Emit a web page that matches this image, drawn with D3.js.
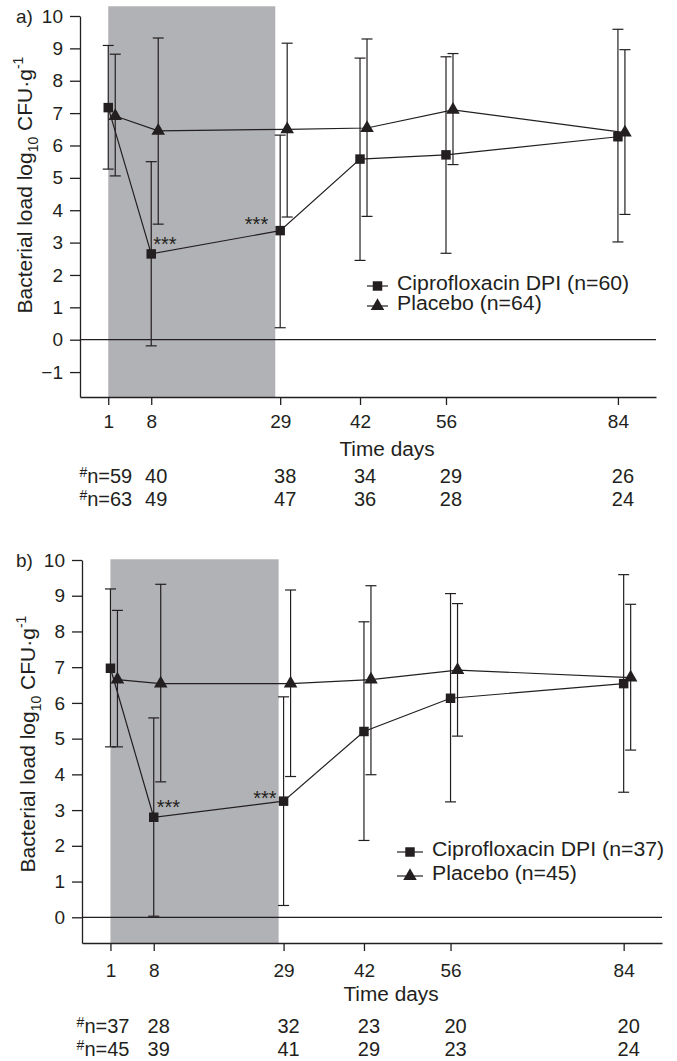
<!DOCTYPE html>
<html lang="en">
<head>
  <meta charset="UTF-8">
  <script src="https://d3js.org/d3.v7.min.js"></script>
  <title>Bacterial load</title>
  <style>
    body { margin: 0; background: #fff; }
    svg text { font-family: "Liberation Sans", Arial, sans-serif; fill: #231f20; }
  </style>
</head>
<body>
  <div id="wrapper"></div>
  <script>
    /* data */
    const days = [1, 8, 29, 42, 56, 84];
    const treatmentDays = [1, 28.2];
    const sigDays = [8, 29];

    // panel a
    const ciproA = [7.17, 2.65, 3.37, 5.58, 5.71, 6.27];
    const ciproAHi = [9.09, 5.50, 6.32, 8.70, 8.74, 9.59];
    const ciproALo = [5.27, -0.19, 0.37, 2.45, 2.67, 3.02];
    const placeboA = [6.91, 6.45, 6.50, 6.54, 7.10, 6.40];
    const placeboAHi = [8.82, 9.32, 9.16, 9.29, 8.84, 8.96];
    const placeboALo = [5.06, 3.57, 3.79, 3.81, 5.41, 3.87];
    const nCiproA = [59, 40, 38, 34, 29, 26];
    const nPlaceboA = [63, 49, 47, 36, 28, 24];
    const legendA = ["Ciprofloxacin DPI (n=60)", "Placebo (n=64)"];
    const yTicksA = [-1, 0, 1, 2, 3, 4, 5, 6, 7, 8, 9, 10];

    // panel b
    const ciproB = [6.97, 2.80, 3.25, 5.20, 6.13, 6.54];
    const ciproBHi = [9.19, 5.58, 6.17, 8.27, 9.06, 9.59];
    const ciproBLo = [4.77, 0.03, 0.33, 2.15, 3.23, 3.50];
    const placeboB = [6.65, 6.54, 6.54, 6.65, 6.92, 6.71];
    const placeboBHi = [8.59, 9.32, 9.16, 9.28, 8.78, 8.76];
    const placeboBLo = [4.77, 3.79, 3.94, 3.99, 5.07, 4.68];
    const nCiproB = [37, 28, 32, 23, 20, 20];
    const nPlaceboB = [45, 39, 41, 29, 23, 24];
    const legendB = ["Ciprofloxacin DPI (n=37)", "Placebo (n=45)"];
    const yTicksB = [0, 1, 2, 3, 4, 5, 6, 7, 8, 9, 10];

    const ink = "#231f20";
    const shadeColor = "#b1b2b5";
    const xDomain = [-3.6, 90.2];

    const svg = d3.select("#wrapper")
      .append("svg")
      .attr("width", 677)
      .attr("height", 1061)

    // the figure's lettering is a little wider than Arial
    const widen = (sel, k) => sel.each(function () {
      const len = this.getComputedTextLength()
      d3.select(this).attr("textLength", len * k).attr("lengthAdjust", "spacingAndGlyphs")
    })

    const panels = [
      {
        label: "a)",
        cipro: ciproA, ciproHi: ciproAHi, ciproLo: ciproALo,
        placebo: placeboA, placeboHi: placeboAHi, placeboLo: placeboALo,
        nRows: [nCiproA, nPlaceboA], legend: legendA, yTicks: yTicksA,
        xRange: [80, 656], yDomain: [-1.77, 10], yRange: [397, 16], shadeTop: 10.3,
        titleX: 32, titleY: 185, tickPad: 10, timeX: 387, timeY: 456, rowsY: [483, 506], nLead: 24,
        legendPos: { x: 367, y: 286, gap: 20, line: 21 },
        sig: [{ dx: 2, dy: -3, anchor: "start" }, { dx: -12, dy: 0, anchor: "end" }]
      },
      {
        label: "b)",
        cipro: ciproB, ciproHi: ciproBHi, ciproLo: ciproBLo,
        placebo: placeboB, placeboHi: placeboBHi, placeboLo: placeboBLo,
        nRows: [nCiproB, nPlaceboB], legend: legendB, yTicks: yTicksB,
        xRange: [82, 662], yDomain: [-0.72, 10], yRange: [943, 560], shadeTop: 10.02,
        titleX: 35, titleY: 744, tickPad: 13, timeX: 391, timeY: 1001, rowsY: [1033, 1056], nLead: 19,
        legendPos: { x: 397, y: 852, gap: 24, line: 26 },
        sig: [{ dx: 3, dy: -3, anchor: "start" }, { dx: -7, dy: 4, anchor: "end" }]
      }
    ]

    const squareSym = d3.symbol().type(d3.symbolSquare).size(90)
    const triSym = d3.symbol().type(d3.symbolTriangle).size(80)

    panels.forEach(p => {
      const g = svg.append("g")
      const x = d3.scaleLinear().domain(xDomain).range(p.xRange)
      const y = d3.scaleLinear().domain(p.yDomain).range(p.yRange)

      // treatment period shading
      g.append("rect")
        .attr("x", x(treatmentDays[0]))
        .attr("width", x(treatmentDays[1]) - x(treatmentDays[0]))
        .attr("y", y(p.shadeTop))
        .attr("height", y(p.yDomain[0]) - y(p.shadeTop))
        .attr("fill", shadeColor)

      // zero reference line
      g.append("line")
        .attr("x1", p.xRange[0]).attr("x2", p.xRange[1])
        .attr("y1", y(0)).attr("y2", y(0))
        .attr("stroke", ink).attr("stroke-width", 1.2)

      // axes
      const yAxis = g.append("g")
        .attr("transform", `translate(${p.xRange[0]},0)`)
        .call(d3.axisLeft(y).tickValues(p.yTicks).tickSize(10).tickSizeOuter(0).tickPadding(7))
      const xAxis = g.append("g")
        .attr("transform", `translate(0,${p.yRange[0]})`)
        .call(d3.axisBottom(x).tickValues(days).tickSize(8).tickSizeOuter(0).tickPadding(p.tickPad))
      ;[xAxis, yAxis].forEach(a => {
        a.selectAll("path, line").attr("stroke", ink).attr("stroke-width", 1.3)
        a.selectAll("text").attr("fill", ink).style("font-size", "19px")
      })

      // panel letter
      g.append("text")
        .attr("x", 16).attr("y", y(10)).attr("dy", "0.35em")
        .style("font-size", "19px")
        .text(p.label)

      // y title
      const title = g.append("text")
        .attr("transform", `translate(${p.titleX},${p.titleY}) rotate(-90)`)
        .attr("text-anchor", "middle")
        .style("font-size", "21px")
      title.append("tspan").text("Bacterial load log")
      title.append("tspan").attr("dy", 6).style("font-size", "14px").text("10")
      title.append("tspan").attr("dy", -6).text(" CFU·g")
      title.append("tspan").attr("dy", -9).style("font-size", "14px").text("-1")

      // x title
      g.append("text")
        .attr("x", p.timeX).attr("y", p.timeY)
        .attr("text-anchor", "middle")
        .style("font-size", "20px")
        .text("Time days")
        .call(widen, 1.04)

      // numbers at risk
      p.nRows.forEach((row, r) => {
        row.forEach((v, i) => {
          const t = g.append("text")
            .attr("y", p.rowsY[r])
            .style("font-size", "20px")
          if (i === 0) {
            t.attr("x", x(days[i]) + p.nLead).attr("text-anchor", "end")
            t.append("tspan").attr("dy", -6).style("font-size", "14px").text("#")
            t.append("tspan").attr("dy", 6).text("n=" + v)
          } else {
            t.attr("x", x(days[i]) + 5).attr("text-anchor", "middle").text(v)
          }
        })
      })

      // series
      const series = [
        { mid: p.cipro, hi: p.ciproHi, lo: p.ciproLo, dx: 0, sym: squareSym },
        { mid: p.placebo, hi: p.placeboHi, lo: p.placeboLo, dx: 7, sym: triSym }
      ]
      series.forEach(s => {
        const pts = days.map((d, i) => ({ x: x(d) + s.dx, v: s.mid[i], hi: s.hi[i], lo: s.lo[i] }))
        const eb = g.append("g").attr("stroke", ink).attr("stroke-width", 1.2)
        pts.forEach(pt => {
          eb.append("line").attr("x1", pt.x).attr("x2", pt.x).attr("y1", y(pt.hi)).attr("y2", y(pt.lo))
          eb.append("line").attr("x1", pt.x - 5.5).attr("x2", pt.x + 5.5).attr("y1", y(pt.hi)).attr("y2", y(pt.hi))
          eb.append("line").attr("x1", pt.x - 5.5).attr("x2", pt.x + 5.5).attr("y1", y(pt.lo)).attr("y2", y(pt.lo))
        })
        g.append("path")
          .datum(pts)
          .attr("fill", "none").attr("stroke", ink).attr("stroke-width", 1.2)
          .attr("d", d3.line().x(d => d.x).y(d => y(d.v)))
        g.selectAll(null)
          .data(pts)
          .enter()
          .append("path")
          .attr("d", s.sym)
          .attr("transform", d => `translate(${d.x},${y(d.v)})`)
          .attr("fill", ink)
      })

      // significance stars
      sigDays.forEach((d, k) => {
        const i = days.indexOf(d)
        g.append("text")
          .attr("x", x(d) + p.sig[k].dx)
          .attr("y", y(p.cipro[i]) + p.sig[k].dy)
          .attr("text-anchor", p.sig[k].anchor)
          .style("font-size", "20px")
          .text("***")
      })

      // legend
      const lp = p.legendPos
      ;[squareSym, triSym].forEach((sym, k) => {
        const ly = lp.y + k * lp.gap
        g.append("line")
          .attr("x1", lp.x).attr("x2", lp.x + lp.line)
          .attr("y1", ly).attr("y2", ly)
          .attr("stroke", ink).attr("stroke-width", 1.2)
        g.append("path")
          .attr("d", sym)
          .attr("transform", `translate(${lp.x + lp.line / 2},${ly})`)
          .attr("fill", ink)
        g.append("text")
          .attr("x", lp.x + lp.line + 9)
          .attr("y", ly + 4)
          .style("font-size", "19.5px")
          .text(p.legend[k])
          .call(widen, 1.09)
      })
    })
  </script>
</body>
</html>
